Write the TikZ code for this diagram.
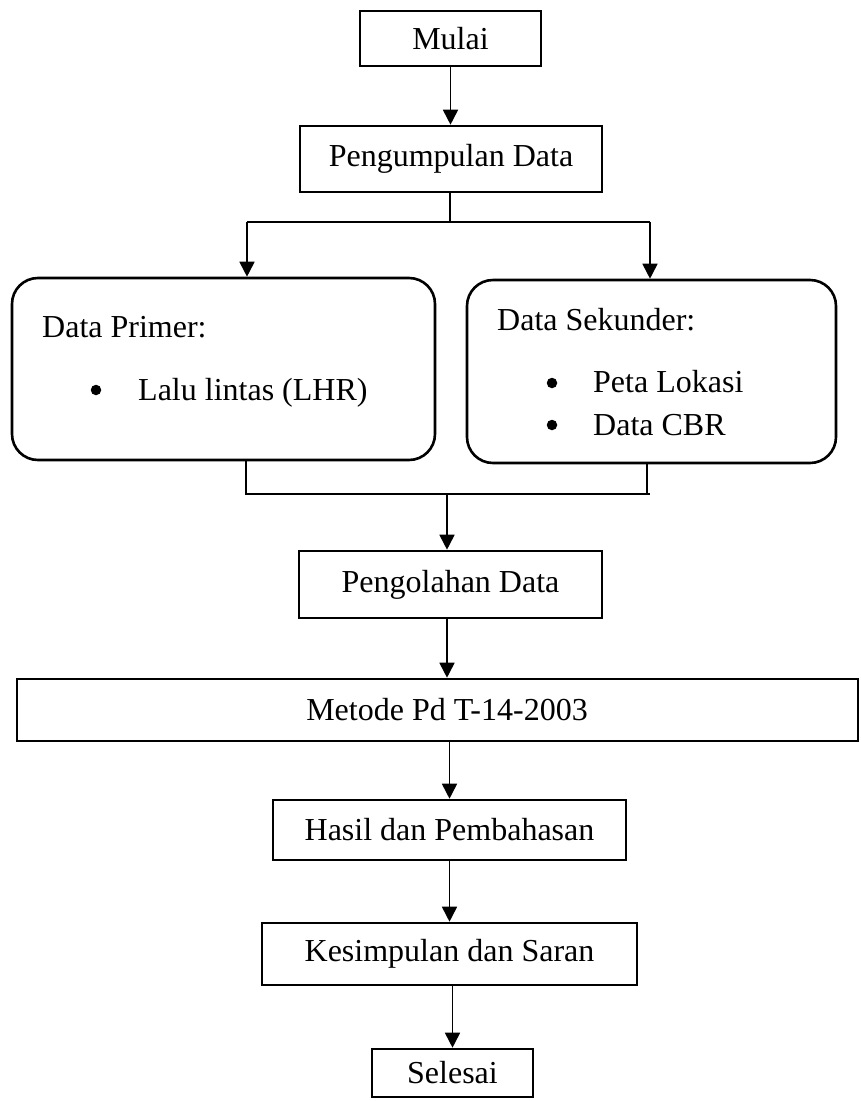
\documentclass[tikz,border=0pt]{standalone}
\usepackage{fontspec}
\setmainfont{Liberation Serif}
\usetikzlibrary{arrows.meta}

\begin{document}
\begin{tikzpicture}[x=1pt,y=-1pt,
  font=\fontsize{32}{38}\selectfont,
  box/.style={draw, line width=2.6pt, inner sep=0pt},
  roundbox/.style={draw, line width=2.6pt, rounded corners=26pt, inner sep=0pt},
  item/.style={anchor=base west, inner sep=0pt},
  bullet/.style={circle, fill, inner sep=0pt, minimum size=10.5pt},
  link/.style={line width=1.7pt},
  arrow/.style={line width=1.7pt, -{Triangle[width=15pt,length=15pt]}}]
\useasboundingbox (0,0) rectangle (861,1101);

% Main boxes
\node[box, minimum width=181pt, minimum height=55pt] (mulai) at (450.5,38.5) {Mulai};
\node[box, minimum width=302pt, minimum height=66pt] (kumpul) at (451,159) {Pengumpulan Data};
\node[roundbox, minimum width=423pt, minimum height=182pt] (primer) at (223.5,369) {};
\node[roundbox, minimum width=369pt, minimum height=183pt] (sekunder) at (651.5,371.5) {};
\node[box, minimum width=303pt, minimum height=67pt] (olah) at (450.5,584.5) {Pengolahan Data};
\node[box, minimum width=841pt, minimum height=62pt] (metode) at (437.5,710) {\hspace{19pt}Metode Pd T-14-2003};
\node[box, minimum width=353pt, minimum height=60pt] (hasil) at (449.5,830) {Hasil dan Pembahasan};
\node[box, minimum width=375pt, minimum height=62pt] (simpul) at (449.5,954) {Kesimpulan dan Saran};
\node[box, minimum width=161pt, minimum height=48pt] (selesai) at (452.5,1073) {Selesai};

% Contents of the two data boxes
\node[item] (primerjudul) at (42,337) {Data Primer:};
\node[bullet] (b1) at (96,390) {};
\node[item] (lhr) at (138,400) {Lalu lintas (LHR)};
\node[item] (sekunderjudul) at (497,330) {Data Sekunder:};
\node[bullet] (b2) at (552,383) {};
\node[item] (peta) at (593,392) {Peta Lokasi};
\node[bullet] (b3) at (552,425) {};
\node[item] (cbr) at (593,435) {Data CBR};

% Split and join points
\coordinate (split) at (450,222);
\coordinate (splitL) at (247,222);
\coordinate (splitR) at (650,222);
\coordinate (joinL) at (245,494);
\coordinate (joinR) at (650,494);
\coordinate (join) at (447,494);

% Connectors
\draw[arrow] (mulai) -- (mulai |- kumpul.north);
\draw[link] (kumpul.south -| split) -- (split);
\draw[link] (splitL) -- (splitR);
\draw[arrow] (splitL) -- (splitL |- primer.north);
\draw[arrow] (splitR) -- (splitR |- sekunder.north);
\draw[link] (primer.south -| 246,0) -- (246,494);
\draw[link] (sekunder.south -| 647,0) -- (647,494);
\draw[link] (joinL) -- (joinR);
\draw[arrow] (join) -- (join |- olah.north);
\draw[arrow] (olah.south -| join) -- (join |- metode.north);
\draw[arrow] (metode.south -| hasil) -- (hasil.north);
\draw[arrow] (hasil) -- (hasil |- simpul.north);
\draw[arrow] (simpul.south -| selesai) -- (selesai.north);

\end{tikzpicture}
\end{document}
